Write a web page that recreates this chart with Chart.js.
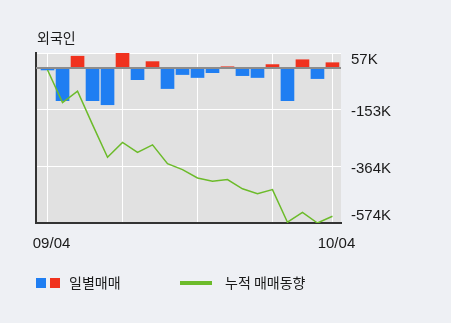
<!DOCTYPE html>
<html lang="ko">
<head>
<meta charset="utf-8">
<title>외국인 매매동향</title>
<script src="https://cdn.jsdelivr.net/npm/chart.js@4"></script>
<style>
  html, body { margin: 0; padding: 0; background: #eef0f4; }
  #wrap { width: 451px; height: 323px; }
</style>
</head>
<body>
<div id="wrap"><canvas id="foreignChart" width="451" height="323"></canvas></div>
<script>
'use strict';

// 거래일 (2019.09.04 ~ 10.04)
const days = ['09/04', '09/05', '09/06', '09/09', '09/10', '09/11', '09/16', '09/17', '09/18', '09/19',
              '09/20', '09/23', '09/24', '09/25', '09/26', '09/27', '09/30', '10/01', '10/02', '10/04'];
// 일별 순매매 (천주)
const dailyNet = [-6, -120, 45, -120, -135, 57, -42, 25, -75, -23, -34, -16, 6, -27, -34, 14, -120, 32, -38, 21];
// 누적 매매 (천주)
const cumulative = [-6, -127, -85, -209, -330, -275, -312, -284, -354, -376, -407, -419, -413, -447, -465, -450, -571, -535, -574, -549];

const yTicks = [57, -153, -364, -574];
const yTickLabels = ['57K', '-153K', '-364K', '-574K'];
const xGridIdx = [0, 5, 10, 15, 19];
const xLabelIdx = [0, 19];

const BLUE = '#1f7ef2';
const RED = '#f0321e';
const GREEN = '#6cbb2a';
const NUM_FONT = "15px 'Liberation Sans', Arial, sans-serif";
const KO_FONT = "14px 'Noto Sans CJK KR', sans-serif";

// 배경, 0 기준선, 라벨, 범례
const decor = {
  id: 'decor',
  beforeDraw(chart) {
    const { ctx, chartArea: a } = chart;
    ctx.save();
    ctx.fillStyle = '#eef0f4';
    ctx.fillRect(0, 0, chart.width, chart.height);
    ctx.fillStyle = '#e1e1e1';
    ctx.fillRect(a.left, a.top, a.right - a.left, a.bottom - a.top);
    ctx.restore();
  },
  afterDatasetDraw(chart, args) {
    if (args.index !== 1) return;
    const { ctx, chartArea: a } = chart;
    const y = Math.round(chart.scales.y.getPixelForValue(0));
    ctx.save();
    ctx.fillStyle = '#8c8c8c';
    ctx.fillRect(a.left, y - 1, a.right - a.left, 2);
    ctx.restore();
  },
  afterDraw(chart) {
    const { ctx, chartArea: a } = chart;
    const ys = chart.scales.y;
    const xs = chart.scales.x;
    ctx.save();
    ctx.font = NUM_FONT;
    ctx.fillStyle = '#1a1a1a';
    ctx.textBaseline = 'alphabetic';

    // y축 라벨 (위/아래는 영역 안쪽으로)
    ctx.textAlign = 'left';
    yTicks.forEach((v, i) => {
      let cy = ys.getPixelForValue(v) + 1.5;
      cy = Math.max(a.top + 5.5, Math.min(a.bottom - 8, cy));
      ctx.fillText(yTickLabels[i], 351, cy + 5.3);
    });

    // x축 라벨
    ctx.textAlign = 'center';
    xLabelIdx.forEach(i => {
      ctx.fillText(days[i], xs.getPixelForValue(i) + 4, 248);
    });

    // 제목
    ctx.font = KO_FONT;
    ctx.textAlign = 'left';
    ctx.textBaseline = 'middle';
    ctx.fillText('외국인', 37, 38);

    // 범례
    ctx.fillStyle = BLUE;
    ctx.fillRect(36, 278, 10, 10);
    ctx.fillStyle = RED;
    ctx.fillRect(50, 278, 10, 10);
    ctx.fillStyle = GREEN;
    ctx.fillRect(180, 281, 32, 4);
    ctx.fillStyle = '#1a1a1a';
    ctx.fillText('일별매매', 69, 283);
    ctx.fillText('누적 매매동향', 225, 283);
    ctx.restore();
  }
};

const ctx = document.getElementById('foreignChart').getContext('2d');
const chart = new Chart(ctx, {
  type: 'bar',
  data: {
    datasets: [
      {
        type: 'line',
        label: '누적 매매동향',
        data: cumulative.map((v, i) => ({ x: i, y: v })),
        borderColor: GREEN,
        borderWidth: 1.5,
        pointRadius: 0,
        tension: 0,
        fill: false
      },
      {
        type: 'bar',
        label: '일별매매',
        data: dailyNet.map((v, i) => ({ x: i, y: v })),
        backgroundColor: c => dailyNet[c.dataIndex] >= 0 ? RED : BLUE,
        barThickness: 13
      }
    ]
  },
  options: {
    responsive: false,
    animation: false,
    layout: { padding: { left: 36, right: 110, top: 53, bottom: 100 } },
    plugins: { legend: { display: false }, tooltip: { enabled: false } },
    scales: {
      x: {
        type: 'linear',
        min: -0.77,
        max: 19.57,
        offset: false,
        afterBuildTicks: s => { s.ticks = xGridIdx.map(v => ({ value: v })); },
        ticks: { display: false },
        grid: { color: '#ffffff', lineWidth: 1, drawTicks: false, offset: false },
        border: { display: true, color: '#333', width: 2 }
      },
      y: {
        min: -574,
        max: 57,
        afterBuildTicks: s => { s.ticks = yTicks.map(v => ({ value: v })); },
        ticks: { display: false },
        grid: { color: '#ffffff', lineWidth: 1, drawTicks: false },
        border: { display: true, color: '#333', width: 2 }
      }
    }
  },
  plugins: [decor]
});
</script>
</body>
</html>
